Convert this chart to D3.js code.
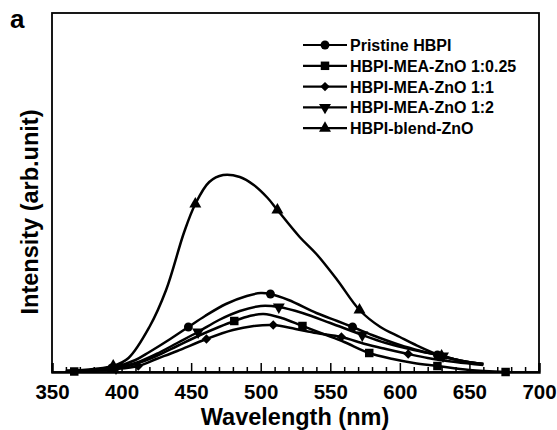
<!DOCTYPE html>
<html><head><meta charset="utf-8">
<script src="https://cdn.jsdelivr.net/npm/d3@7"></script>
<style>body{margin:0;background:#fff}svg{display:block}text{font-family:"Liberation Sans",Arial,sans-serif;font-weight:bold;fill:#000}</style>
</head><body><svg id="c" width="557" height="430"></svg>
<script>
const seriesNames = ["Pristine HBPI","HBPI-MEA-ZnO 1:0.25","HBPI-MEA-ZnO 1:1","HBPI-MEA-ZnO 1:2","HBPI-blend-ZnO"];
const xTicks = [350,400,450,500,550,600,650,700];

const pristineCurve = [[360,1],[380,2],[395,5],[410,12],[420,20],[435,33],[448,45],[460,56],[475,68],[490,76],[500,79],[507,78],[520,72],[540,59],[555,51],[566,45],[580,37],[600,27],[615,21],[627,17],[645,11],[660,8]];
const pristineMarks = [[393,4],[448,45],[507,78],[566,45],[627,17]];

const q025Curve = [[362,0.5],[380,1.5],[395,3],[410,8],[425,16],[440,26],[455,36],[470,45],[481,51],[492,56],[502,58],[515,54],[530,46],[545,38],[560,30],[578,19],[595,13],[610,9],[627,6],[650,2],[676,0]];
const q025Marks = [[366,0.5],[481,51],[530,46],[578,19],[627,6],[676,0]];

const q11Curve = [[360,1],[380,2],[395,3],[412,6],[425,13],[440,21],[461,33],[480,42],[495,46],[509,47],[525,43],[540,39],[558,35],[575,28],[590,23],[606,18],[620,14],[640,10],[660,7]];
const q11Marks = [[412,6],[461,33],[509,47],[558,35],[606,18]];

const q12Curve = [[360,1],[380,2],[395,4],[410,9],[425,18],[440,29],[455,40],[470,52],[485,61],[500,66],[513,65],[530,59],[550,49],[573,37],[590,29],[610,22],[631,16],[645,11],[660,8]];
const q12Marks = [[396,4],[455,40],[513,65],[573,37],[631,16]];

const blendCurve = [[360,1],[380,3],[394,6],[405,14],[420,45],[432,82],[445,140],[453,168],[463,190],[473,197],[485,195],[495,187],[505,174],[512,162],[528,135],[540,118],[555,92],[571,62],[586,45],[600,35],[610,28],[630,16],[645,11],[660,8]];
const blendMarks = [[394,6],[453,168],[512,162],[571,62],[630,16]];

const curves = [pristineCurve,q025Curve,q11Curve,q12Curve,blendCurve];
const marks = [pristineMarks,q025Marks,q11Marks,q12Marks,blendMarks];
const symbols = [
  {t:d3.symbolCircle,s:62,r:0},
  {t:d3.symbolSquare,s:72,r:0},
  {t:d3.symbolSquare,s:44,r:45},
  {t:d3.symbolTriangle,s:62,r:180},
  {t:d3.symbolTriangle,s:62,r:0}
];

const svg = d3.select("#c");
const L=52,R=539,T=13,B=372;
const x = d3.scaleLinear().domain([350,700]).range([L,R]);
const y = d3.scaleLinear().domain([0,359]).range([B,T]);

// frame
svg.append("rect").attr("x",L).attr("y",T).attr("width",R-L).attr("height",B-T)
  .attr("fill","none").attr("stroke","#000").attr("stroke-width",1.8);

// bottom axis, inward ticks
const minor = d3.range(350,701,10).filter(v=>v%50!==0);
const gx = svg.append("g").attr("transform",`translate(0,${B})`);
gx.call(d3.axisBottom(x).tickValues(minor).tickSize(-5).tickFormat(""))
  .call(g=>g.select(".domain").remove());
gx.append("g").call(d3.axisBottom(x).tickValues(xTicks).tickSize(-9).tickPadding(12).tickFormat(d3.format("d")))
  .call(g=>g.select(".domain").attr("stroke-width",2.4));
gx.selectAll(".tick line").attr("stroke","#000").attr("stroke-width",1.5);
gx.selectAll(".tick text").attr("font-size","20.5px").style("font-family","'Liberation Sans',Arial,sans-serif").style("font-weight","bold").attr("fill","#000");

const line = d3.line().x(d=>x(d[0])).y(d=>y(d[1])).curve(d3.curveCatmullRom.alpha(0.5));
curves.forEach((c,i)=>{
  svg.append("path").attr("d",line(c)).attr("fill","none").attr("stroke","#000").attr("stroke-width",2.5);
});
marks.forEach((m,i)=>{
  const sy = symbols[i];
  svg.append("g").selectAll("path").data(m).join("path")
    .attr("d",d3.symbol().type(sy.t).size(sy.s))
    .attr("transform",d=>`translate(${x(d[0])},${y(d[1])}) rotate(${sy.r})`)
    .attr("fill","#000");
});

// legend
const lg = svg.append("g");
seriesNames.forEach((n,i)=>{
  const yy = 45 + i*20.8;
  lg.append("line").attr("x1",303).attr("x2",347).attr("y1",yy).attr("y2",yy).attr("stroke","#000").attr("stroke-width",2.2);
  lg.append("path").attr("d",d3.symbol().type(symbols[i].t).size(symbols[i].s))
    .attr("transform",`translate(325,${yy}) rotate(${symbols[i].r})`).attr("fill","#000");
  lg.append("text").attr("x",350).attr("y",yy+6).attr("font-size","16px").text(n);
});

// axis titles
svg.append("text").attr("x",295).attr("y",425).attr("text-anchor","middle").attr("font-size","23.5px").text("Wavelength (nm)");
svg.append("text").attr("transform","translate(38,212) rotate(-90)").attr("text-anchor","middle").attr("font-size","23.5px").text("Intensity (arb.unit)");
svg.append("text").attr("x",10).attr("y",28).attr("font-size","26px").text("a");
</script></body></html>
